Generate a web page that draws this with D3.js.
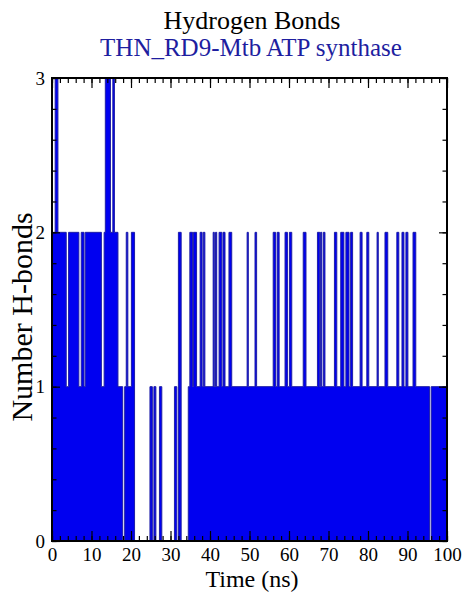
<!DOCTYPE html>
<html>
<head>
<meta charset="utf-8">
<script src="https://cdn.jsdelivr.net/npm/d3@7"></script>
<style>
  body { margin: 0; background: #fff; }
  svg { display: block; }
  text { font-family: "Liberation Serif", "DejaVu Serif", serif; }
</style>
</head>
<body>
<div id="chart"></div>
<script>
// step series: number of H-bonds holds from changeTimes[i] until the next change
var changeTimes = [0, 0.8, 1.5, 3.6, 4.2, 6.8, 7.4, 8.1, 8.4, 12.5, 13.2, 13.5, 14.8, 15.4, 15.8,
    16.7, 17.9, 18.4, 18.8, 19.2, 20.1, 20.9, 24.8, 25.4, 25.8, 26.3, 27.2, 27.8, 31.0, 31.6,
    32.0, 32.7, 34.5, 34.9, 35.6, 35.8, 36.6, 37.5, 38.0, 38.3, 38.7, 40.8, 41.1, 41.4, 41.7,
    42.3, 43.0, 43.3, 43.8, 44.8, 45.5, 49.4, 49.7, 51.4, 51.8, 56.0, 56.6, 57.0, 57.5, 59.0,
    59.6, 60.1, 60.7, 63.6, 64.3, 67.2, 67.8, 68.0, 68.3, 68.7, 69.1, 71.5, 72.1, 73.1, 73.9,
    74.4, 75.2, 75.6, 76.1, 78.0, 78.5, 79.7, 80.2, 82.3, 82.6, 84.3, 85.0, 87.3, 87.8, 88.6,
    89.1, 89.6, 90.1, 91.4, 92.1, 95.6, 96.0, 100];
var hbondCounts = [2, 3, 2, 1, 2, 1, 2, 1, 2, 1, 2, 3, 2, 3, 2,
    1, 0, 1, 2, 1, 2, 0, 1, 0, 1, 0, 1, 0, 1, 0,
    2, 0, 1, 2, 1, 2, 1, 2, 1, 2, 1, 2, 1, 2, 1,
    2, 1, 2, 1, 2, 1, 2, 1, 2, 1, 2, 1, 2, 1, 2,
    1, 2, 1, 2, 1, 2, 1, 2, 1, 2, 1, 2, 1, 2, 1,
    2, 1, 2, 1, 2, 1, 2, 1, 2, 1, 2, 1, 2, 1, 2,
    1, 2, 1, 2, 1, 0, 1, 1];

var xTicks = [0, 10, 20, 30, 40, 50, 60, 70, 80, 90, 100];
var yTicks = [0, 1, 2, 3];

var W = 465, H = 592;
var plotL = 52, plotR = 447, plotT = 78, plotB = 541;

var svg = d3.select("#chart").append("svg")
    .attr("width", W)
    .attr("height", H);

var x = d3.scaleLinear().domain([0, 100]).range([plotL, plotR]);
var y = d3.scaleLinear().domain([0, 3]).range([plotB, plotT]);

var series = changeTimes.map(function(t, i) { return {t: t, v: hbondCounts[i]}; });

svg.append("clipPath").attr("id", "plotclip")
    .append("rect")
    .attr("x", plotL).attr("y", plotT - 1)
    .attr("width", plotR - plotL).attr("height", plotB - plotT + 1);

var g = svg.append("g").attr("clip-path", "url(#plotclip)");

var area = d3.area()
    .curve(d3.curveStepAfter)
    .x(function(d) { return x(d.t); })
    .y0(y(0))
    .y1(function(d) { return y(d.v); });

var line = d3.line()
    .curve(d3.curveStepAfter)
    .x(function(d) { return x(d.t); })
    .y(function(d) { return y(d.v); });

g.append("path")
    .datum(series)
    .attr("d", area)
    .attr("fill", "#0000f0");

g.append("path")
    .datum(series)
    .attr("d", line)
    .attr("fill", "none")
    .attr("stroke", "#1e1ea6")
    .attr("stroke-width", 1);

// frame + inward ticks on all four sides
var xMinor = d3.range(0, 101, 2), yMinor = d3.range(0, 3.01, 0.2);
var axes = svg.append("g");

var bottomAxis = d3.axisBottom(x).tickValues(xTicks).tickSize(-10).tickPadding(7)
    .tickFormat(d3.format("d"));
var topAxis = d3.axisTop(x).tickValues(xTicks).tickSize(-10).tickFormat("");
var leftAxis = d3.axisLeft(y).tickValues(yTicks).tickSize(-8).tickPadding(7)
    .tickFormat(d3.format("d"));
var rightAxis = d3.axisRight(y).tickValues(yTicks).tickSize(-8).tickFormat("");

var minorB = d3.axisBottom(x).tickValues(xMinor).tickSize(-5).tickFormat("");
var minorT = d3.axisTop(x).tickValues(xMinor).tickSize(-5).tickFormat("");
var minorL = d3.axisLeft(y).tickValues(yMinor).tickSize(-4.5).tickFormat("");
var minorR = d3.axisRight(y).tickValues(yMinor).tickSize(-4.5).tickFormat("");

[[minorB, "translate(0," + plotB + ")"], [minorT, "translate(0," + plotT + ")"],
 [minorL, "translate(" + plotL + ",0)"], [minorR, "translate(" + plotR + ",0)"],
 [bottomAxis, "translate(0," + plotB + ")"], [topAxis, "translate(0," + plotT + ")"],
 [leftAxis, "translate(" + plotL + ",0)"], [rightAxis, "translate(" + plotR + ",0)"]
].forEach(function(a) {
    var ax = axes.append("g").attr("transform", a[1]).call(a[0]);
    ax.select(".domain").remove();
    ax.selectAll("line").attr("stroke", "#000").attr("stroke-width", 1.2);
    ax.selectAll("text").attr("fill", "#000").style("font-size", "19px")
        .style("font-family", "'Liberation Serif', serif");
});

svg.append("rect")
    .attr("x", plotL).attr("y", plotT)
    .attr("width", plotR - plotL).attr("height", plotB - plotT)
    .attr("fill", "none")
    .attr("stroke", "#000")
    .attr("stroke-width", 2);

svg.append("text")
    .attr("x", 252).attr("y", 29)
    .attr("text-anchor", "middle")
    .style("font-size", "26px")
    .attr("fill", "#000")
    .text("Hydrogen Bonds");

svg.append("text")
    .attr("x", 251).attr("y", 56)
    .attr("text-anchor", "middle")
    .style("font-size", "25px")
    .attr("fill", "#1e1ea0")
    .text("THN_RD9-Mtb ATP synthase");

svg.append("text")
    .attr("x", 252).attr("y", 587)
    .attr("text-anchor", "middle")
    .style("font-size", "24px")
    .attr("fill", "#000")
    .text("Time (ns)");

svg.append("text")
    .attr("transform", "translate(32,317) rotate(-90)")
    .attr("text-anchor", "middle")
    .style("font-size", "30px")
    .attr("fill", "#000")
    .text("Number H-bonds");
</script>
</body>
</html>
